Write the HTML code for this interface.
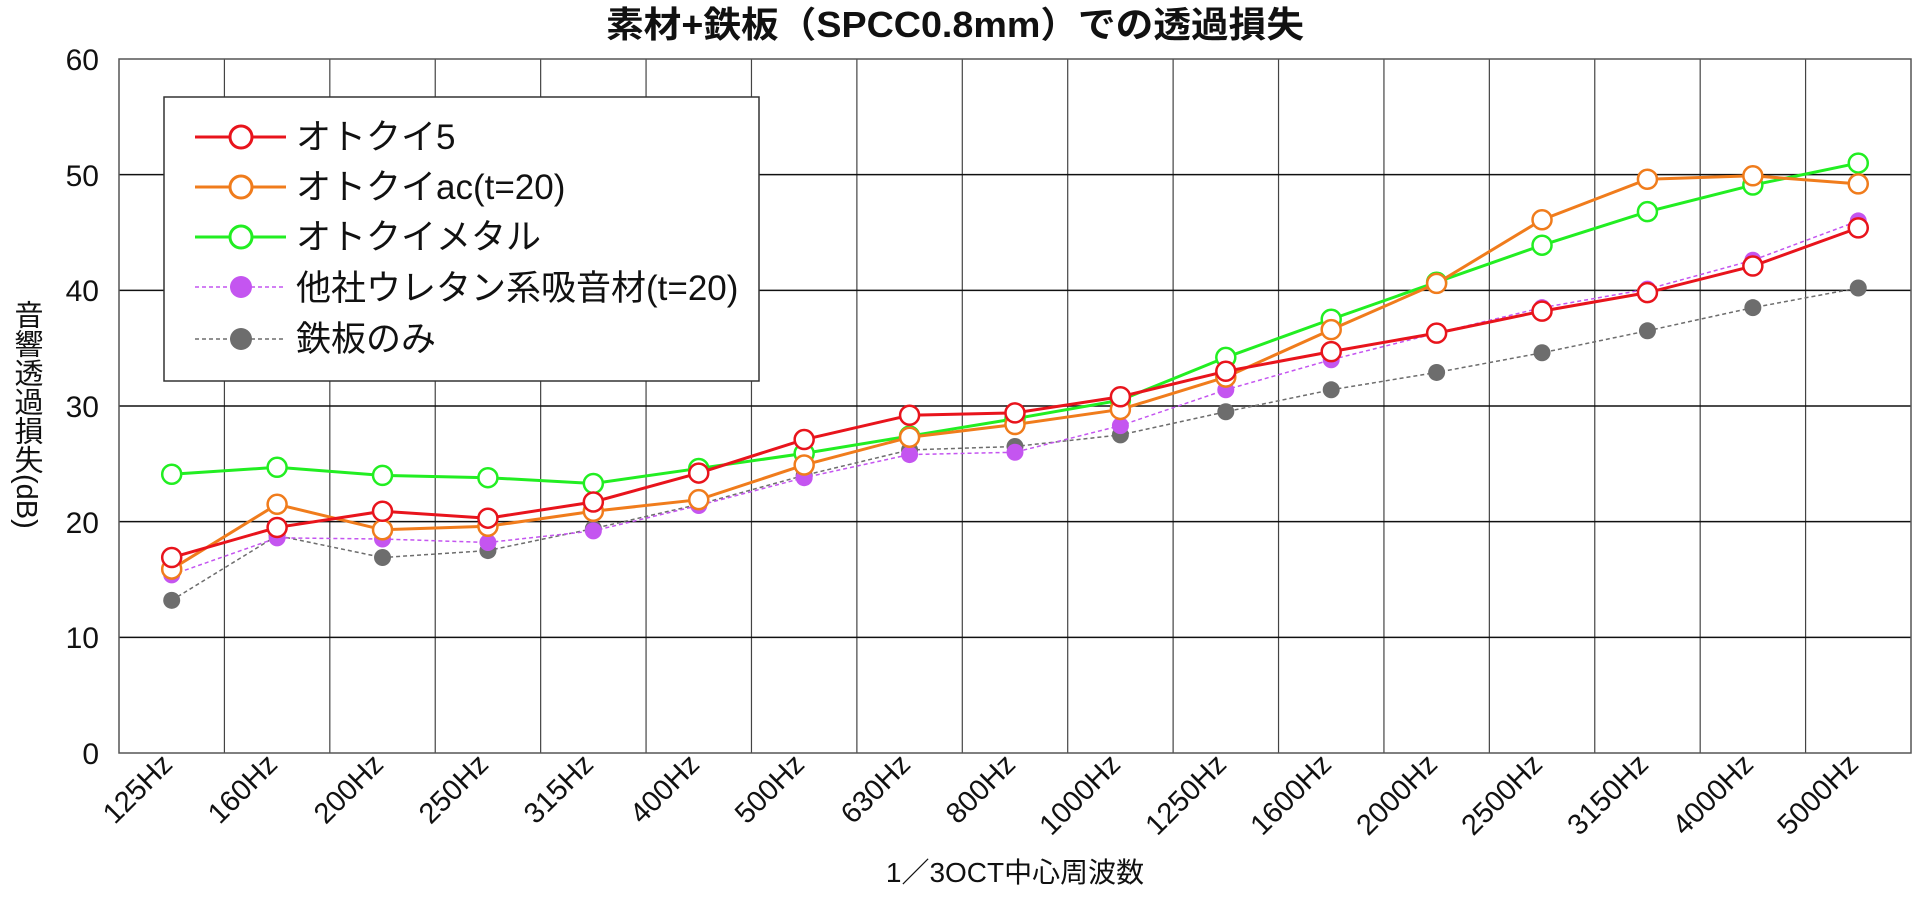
<!DOCTYPE html>
<html><head><meta charset="utf-8"><style>
html,body{margin:0;padding:0;background:#fff;}
svg{display:block;font-family:"Liberation Sans","Noto Sans CJK JP",sans-serif;}
</style></head><body>
<svg id="c" width="1921" height="901" viewBox="0 0 1921 901" xmlns="http://www.w3.org/2000/svg">
<rect width="1921" height="901" fill="#fff"/>
<text x="955" y="37" text-anchor="middle" font-size="36" font-weight="bold" fill="#111" textLength="698" lengthAdjust="spacingAndGlyphs">素材+鉄板（SPCC0.8mm）での透過損失</text>
<g id="grid"></g>
<rect x="119" y="59" width="1792" height="694" fill="none" stroke="#555" stroke-width="1.5"/>
<g font-size="30" fill="#111" text-anchor="end">
<text x="99" y="70">60</text><text x="99" y="186">50</text><text x="99" y="301">40</text>
<text x="99" y="417">30</text><text x="99" y="533">20</text><text x="99" y="648">10</text><text x="99" y="764">0</text>
</g>
<g font-size="29" fill="#111" text-anchor="end">
<text transform="translate(174,766) rotate(-45)">125Hz</text>
<text transform="translate(279,766) rotate(-45)">160Hz</text>
<text transform="translate(385,766) rotate(-45)">200Hz</text>
<text transform="translate(490,766) rotate(-45)">250Hz</text>
<text transform="translate(595,766) rotate(-45)">315Hz</text>
<text transform="translate(701,766) rotate(-45)">400Hz</text>
<text transform="translate(806,766) rotate(-45)">500Hz</text>
<text transform="translate(912,766) rotate(-45)">630Hz</text>
<text transform="translate(1017,766) rotate(-45)">800Hz</text>
<text transform="translate(1122,766) rotate(-45)">1000Hz</text>
<text transform="translate(1228,766) rotate(-45)">1250Hz</text>
<text transform="translate(1333,766) rotate(-45)">1600Hz</text>
<text transform="translate(1439,766) rotate(-45)">2000Hz</text>
<text transform="translate(1544,766) rotate(-45)">2500Hz</text>
<text transform="translate(1650,766) rotate(-45)">3150Hz</text>
<text transform="translate(1755,766) rotate(-45)">4000Hz</text>
<text transform="translate(1860,766) rotate(-45)">5000Hz</text>
</g>
<text x="1015" y="882" text-anchor="middle" font-size="28" fill="#111">1／3OCT中心周波数</text>
<text x="26" y="300" font-size="29" fill="#111" style="writing-mode:vertical-rl;text-orientation:mixed">音響透過損失(dB)</text>
<g id="series"></g>
<rect x="164" y="97" width="595" height="284" fill="#fff" stroke="#333" stroke-width="1.5"/>
<g id="leg"></g>
<g font-size="35" fill="#111">
<text x="296" y="149">オトクイ5</text>
<text x="296" y="199">オトクイac(t=20)</text>
<text x="296" y="249">オトクイメタル</text>
<text x="296" y="300">他社ウレタン系吸音材(t=20)</text>
<text x="296" y="351">鉄板のみ</text>
</g>
</svg>
<script>
var NS="http://www.w3.org/2000/svg";
function el(p,t,a){var e=document.createElementNS(NS,t);for(var k in a)e.setAttribute(k,a[k]);p.appendChild(e);return e;}
var g=document.getElementById('grid');
for(var i=1;i<17;i++){var x=119+i*1792/17;el(g,'line',{x1:x,y1:59,x2:x,y2:753,stroke:'#444','stroke-width':1.2});}
for(var j=1;j<6;j++){var y=753-j*115.67;el(g,'line',{x1:119,y1:y,x2:1911,y2:y,stroke:'#111','stroke-width':1.5});}
var S=[
{c:'#6d6d6d',d:[13.2,18.8,16.9,17.5,19.4,21.5,24.0,26.2,26.5,27.5,29.5,31.4,32.9,34.6,36.5,38.5,40.2],f:1},
{c:'#c455f0',d:[15.4,18.6,18.5,18.2,19.2,21.4,23.8,25.8,26.0,28.3,31.4,34.0,36.3,38.5,40.1,42.6,46.0],f:1},
{c:'#22ee22',d:[24.1,24.7,24.0,23.8,23.3,24.6,25.9,27.4,28.9,30.5,34.2,37.5,40.7,43.9,46.8,49.1,51.0]},
{c:'#f07c1c',d:[15.9,21.5,19.3,19.6,20.9,21.9,24.9,27.3,28.4,29.7,32.5,36.6,40.6,46.1,49.6,49.9,49.2]},
{c:'#e8141c',d:[16.9,19.5,20.9,20.3,21.7,24.2,27.1,29.2,29.4,30.8,33.0,34.7,36.3,38.2,39.8,42.1,45.4]}];
var sg=document.getElementById('series');
S.forEach(function(s){
 var pts=s.d.map(function(v,i){return [171.7+i*105.41,753-v*11.567];});
 el(sg,'polyline',{points:pts.map(function(p){return p.join(',')}).join(' '),fill:'none',stroke:s.c,'stroke-width':s.f?1.5:3,'stroke-dasharray':s.f?'4,3':'none'});
 pts.forEach(function(p){ if(s.f) el(sg,'circle',{cx:p[0],cy:p[1],r:8.5,fill:s.c}); else el(sg,'circle',{cx:p[0],cy:p[1],r:9.5,fill:'#fff',stroke:s.c,'stroke-width':2.5});});
});
var lg=document.getElementById('leg');
var L=[S[4],S[3],S[2],S[1],S[0]],ys=[137,187,237,287,339];
L.forEach(function(s,k){var y=ys[k];
 el(lg,'line',{x1:195,y1:y,x2:286,y2:y,stroke:s.c,'stroke-width':s.f?1.5:3,'stroke-dasharray':s.f?'4,3':'none'});
 if(s.f) el(lg,'circle',{cx:241,cy:y,r:11,fill:s.c}); else el(lg,'circle',{cx:241,cy:y,r:11,fill:'#fff',stroke:s.c,'stroke-width':3});
});
</script>
</body></html>
